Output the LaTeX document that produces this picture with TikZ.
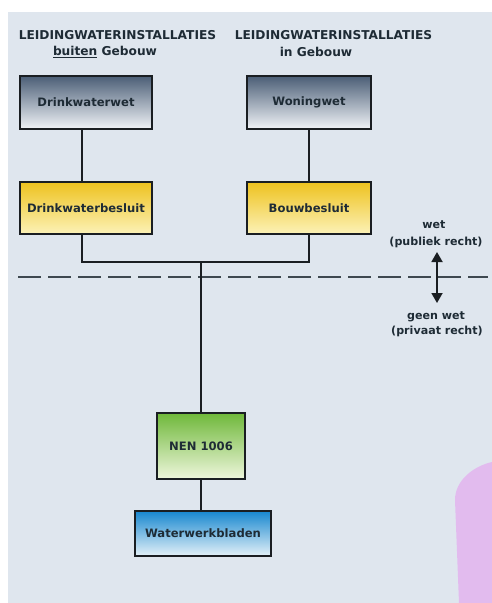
\documentclass[tikz,border=0pt]{standalone}
\usepackage{fontspec}
\setmainfont{DejaVu Sans}
\usetikzlibrary{arrows.meta}
\definecolor{bgc}{HTML}{DFE6EE}
\definecolor{txt}{HTML}{1E2B35}
\definecolor{edge}{HTML}{1A1E22}
\definecolor{dashc}{HTML}{3E4850}
\definecolor{pinkc}{HTML}{E2BBEE}
\definecolor{slatetop}{HTML}{4B5E76}
\definecolor{slatebot}{HTML}{F0F3F7}
\definecolor{yeltop}{HTML}{EEC21E}
\definecolor{yelmid}{HTML}{F3CF3A}
\definecolor{yelbot}{HTML}{FCF2B8}
\definecolor{grntop}{HTML}{6FB83A}
\definecolor{grnmid}{HTML}{9ACD5C}
\definecolor{grnbot}{HTML}{EEF6DC}
\definecolor{blutop}{HTML}{1787CF}
\definecolor{blumid}{HTML}{4AA6DD}
\definecolor{blubot}{HTML}{E4F1F8}
\tikzset{
  box/.style={draw=edge, line width=1.7pt, inner sep=0pt, text=txt,
    font=\bfseries\fontsize{11.6}{13}\selectfont},
  slatebox/.style={box, top color=slatetop, bottom color=slatebot},
  yelbox/.style={box, top color=yeltop, middle color=yelmid, bottom color=yelbot},
  grnbox/.style={box, top color=grntop, middle color=grnmid, bottom color=grnbot},
  blubox/.style={box, top color=blutop, middle color=blumid, bottom color=blubot},
  conn/.style={draw=edge, line width=1.7pt},
  title/.style={text=txt, font=\bfseries\fontsize{12.2}{14}\selectfont, inner sep=0pt},
  lbl/.style={text=txt, font=\bfseries\fontsize{11.1}{13}\selectfont, inner sep=0pt},
}
\begin{document}
\begin{tikzpicture}[x=1pt,y=-1pt]
\useasboundingbox (0,0) rectangle (492,603);
\fill[white] (0,0) rectangle (492,603);
\fill[bgc] (8,12) rectangle (492,603);
\fill[pinkc] (459,603) -- (455,500) .. controls (455,480) and (474,466) .. (492,462) -- (492,603) -- cycle;

% titles
\node[title] (t1) at (117.5,35) {LEIDINGWATERINSTALLATIES};
\node[title] (t1b) at (105,52) {\underline{buiten} Gebouw};
\node[title] (t2) at (333.5,35) {LEIDINGWATERINSTALLATIES};
\node[title] (t2b) at (316,52) {in Gebouw};

% boxes
\node[slatebox, minimum width=132pt, minimum height=53pt] (dww) at (86,102.5) {Drinkwaterwet};
\node[slatebox, minimum width=124pt, minimum height=53pt] (wow) at (309,102.5) {Woningwet};
\node[yelbox, minimum width=132pt, minimum height=52pt] (dwb) at (86,208) {Drinkwaterbesluit};
\node[yelbox, minimum width=124pt, minimum height=52pt] (bb) at (309,208) {Bouwbesluit};
\node[grnbox, minimum width=88pt, minimum height=66pt] (nen) at (201,446) {NEN 1006};
\node[blubox, minimum width=136pt, minimum height=45pt] (wwb) at (203,533.5) {Waterwerkbladen};

% junction coordinates
\coordinate (jr) at (309,262);
\coordinate (jm) at (201,262);

% dashed boundary
\coordinate (dl) at (18,277);
\coordinate (dr) at (488,277);
\draw[dashc, line width=1.8pt, dash pattern=on 23pt off 7pt] (dl) -- (dr);

% connectors
\draw[conn] ([xshift=-4pt]dww.south) -- ([xshift=-4pt]dwb.north);
\draw[conn] (wow.south) -- (bb.north);
\draw[conn] ([xshift=-4pt]dwb.south) |- (jr) -- (bb.south);
\draw[conn] (jm) -- (nen.north);
\draw[conn] (nen.south) -- ([xshift=-2pt]wwb.north);

% right labels and arrow
\node[lbl] (wet) at (434,225) {wet};
\node[lbl] (pub) at (436,242) {(publiek recht)};
\node[lbl] (gw) at (436,317) {geen wet};
\node[lbl] (priv) at (437,331) {(privaat recht)};
\coordinate (at) at (437,252);
\coordinate (ab) at (437,303);
\draw[edge, line width=1.8pt, {Triangle[width=11pt,length=10pt]}-{Triangle[width=11pt,length=10pt]}] (at) -- (ab);
\end{tikzpicture}
\end{document}
